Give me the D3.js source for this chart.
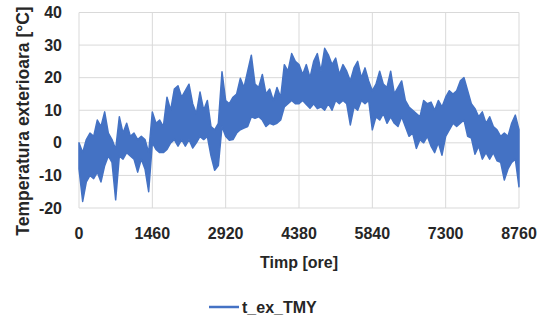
<!DOCTYPE html>
<html>
<head>
<meta charset="utf-8">
<script src="https://cdn.jsdelivr.net/npm/d3@7"></script>
<style>
  body { margin: 0; background: #fff; }
  text { font-family: "Liberation Sans", Arial, sans-serif; font-weight: bold; fill: #262626; }
</style>
</head>
<body>
<svg id="chart" width="544" height="322"></svg>
<script>
// hourly series: max and min every 73 h
const stepHours = 73;
const tHigh = [0, -3, 1, 3, 2, 7, 5, 9.5, 3, 1, -2, 8, 3, 6, 2, 3, 1, 2, 1, -3,
  9.5, 6, 7, 5, 14, 10, 16.5, 17.5, 14, 16, 18, 12, 9, 15.6, 10, 13, 5, 4, 6, 21.8,
  13, 12, 14, 15, 19.8, 17, 22, 26.9, 18, 17, 21, 15, 16.5, 13, 17, 14, 24, 22, 27.4, 25,
  24, 21, 24, 20, 25, 27.4, 22, 29, 27, 24, 26, 21, 24, 22, 19, 23, 25, 20, 23, 19,
  16, 18, 22, 18, 17, 22, 15, 17, 19, 13, 11, 10, 9, 8, 13, 12, 12.5, 10, 13, 11,
  14, 16, 15, 16, 19, 20, 16, 12, 10.5, 8, 9.5, 6, 8, 5, 4, 2, 3, 2, 6, 8.5, 4];
const tLow = [-8, -18, -12, -10, -11, -9, -12, -7, -4, -6, -17.5, -4, -5, -3, -4, -5, -9, -5, -8, -15,
  0, -2, -3, -3, -2, 0, 1, -1, 1, -1, 1, -1.6, 0, 2, 1, 2, -4, -8.4, -7, 5,
  2, 0.8, 1, 3, 4, 4.5, 5, 8, 7.5, 8, 7, 5, 6, 5.5, 6, 7, 11, 12, 13, 12,
  12, 13, 11.8, 10.6, 12, 10.5, 11, 10, 12, 10, 13, 12, 13, 12, 5.5, 11, 10, 13, 12, 13,
  4, 8, 7, 9, 6, 8, 6, 5, 8, 5, 2, 3, -1.7, 1, 0, 2, -1, -3, 0, -3.8,
  2, 4, 6, 5, 6, 7, 2, 1.5, -3.5, -1, -5, -3, -5, -3, -5.5, -6, -11.4, -8, -6, -5, -13.5];
const xTicks = [0, 1460, 2920, 4380, 5840, 7300, 8760];
const yTicks = [-20, -10, 0, 10, 20, 30, 40];
const seriesName = 't_ex_TMY';

const rows = tHigh.map((hi, i) => ({ h: i * stepHours, hi: hi, lo: tLow[i] }));

const margin = { left: 79, right: 25, top: 12.5, bottom: 114 };
const width = 544, height = 322;
const svg = d3.select('#chart');

const x = d3.scaleLinear().domain([0, 8760]).range([margin.left, width - margin.right]);
const y = d3.scaleLinear().domain([-20, 40]).range([height - margin.bottom, margin.top]);

// grid
svg.append('g').selectAll('line').data(yTicks).enter().append('line')
  .attr('x1', x(0)).attr('x2', x(8760))
  .attr('y1', d => y(d)).attr('y2', d => y(d))
  .attr('stroke', '#d9d9d9').attr('stroke-width', 1);
svg.append('g').selectAll('line').data(xTicks).enter().append('line')
  .attr('y1', y(-20)).attr('y2', y(40))
  .attr('x1', d => x(d)).attr('x2', d => x(d))
  .attr('stroke', '#d9d9d9').attr('stroke-width', 1);

// series band
const color = '#4472C4';
svg.append('path').datum(rows)
  .attr('d', d3.area().x(d => x(d.h)).y0(d => y(d.lo)).y1(d => y(d.hi)))
  .attr('fill', color).attr('stroke', color).attr('stroke-width', 1.5).attr('stroke-linejoin', 'round');

// tick labels
svg.append('g').selectAll('text').data(yTicks).enter().append('text')
  .attr('x', 62).attr('y', d => y(d) + 5.5)
  .attr('text-anchor', 'end').style('font-size', '16px')
  .text(d => d);
svg.append('g').selectAll('text').data(xTicks).enter().append('text')
  .attr('x', d => x(d)).attr('y', 239)
  .attr('text-anchor', 'middle').style('font-size', '16px')
  .text(d => d);

// titles
svg.append('text').attr('x', x(4380)).attr('y', 268)
  .attr('text-anchor', 'middle').style('font-size', '16px')
  .text('Timp [ore]');
svg.append('text').attr('transform', 'translate(29,121) rotate(-90)')
  .attr('text-anchor', 'middle').style('font-size', '17.5px')
  .text('Temperatura exterioara [°C]');

// legend
svg.append('line').attr('x1', 209).attr('x2', 239).attr('y1', 307).attr('y2', 307)
  .attr('stroke', color).attr('stroke-width', 2.5);
svg.append('text').attr('x', 242).attr('y', 313).style('font-size', '16px').text(seriesName);
</script>
</body>
</html>
